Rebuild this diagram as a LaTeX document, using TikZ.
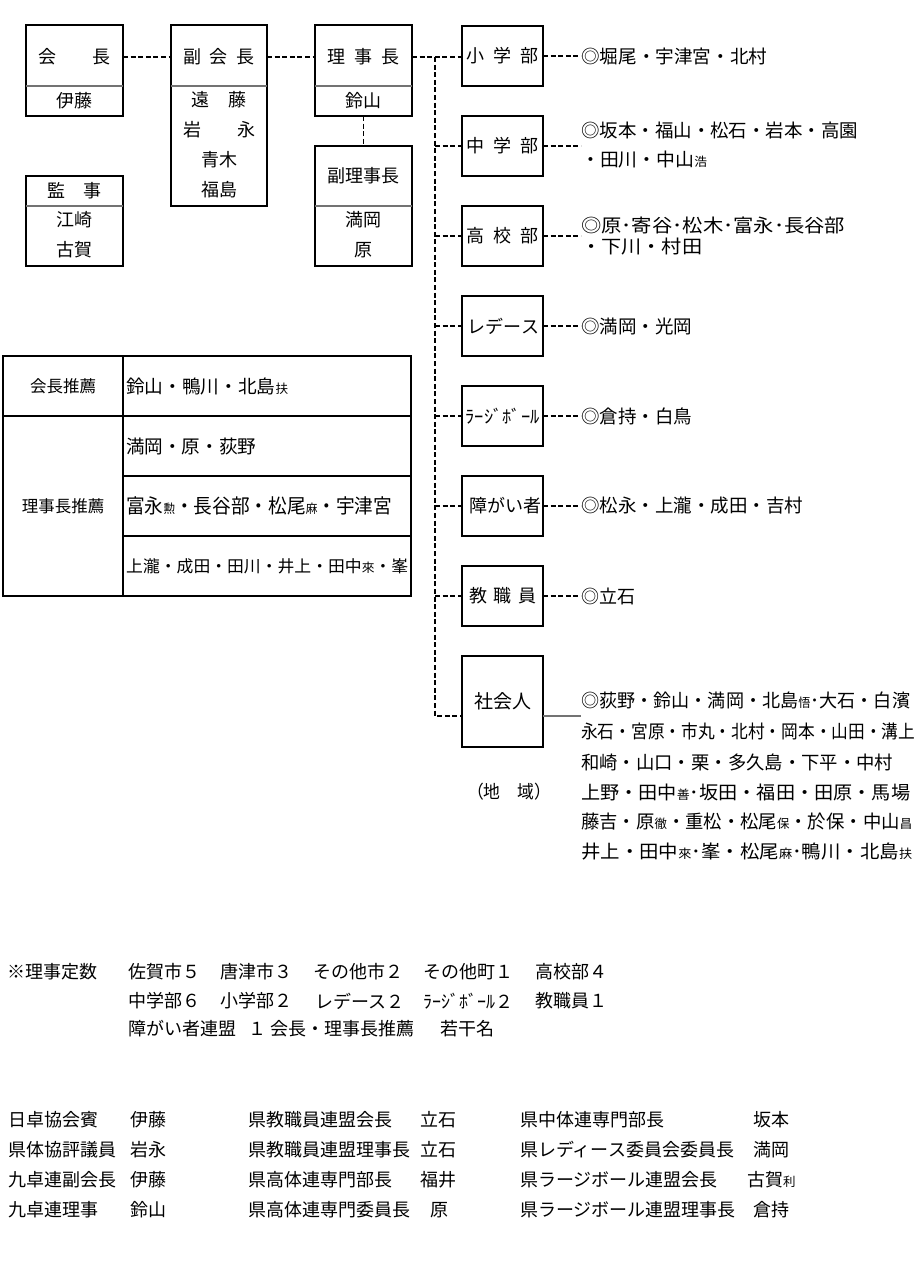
\documentclass[tikz,border=0pt]{standalone}
\usepackage{fontspec}
\usepackage{graphicx}
\setmainfont{Noto Sans CJK JP}
\newcommand\spr[2]{\makebox[#1][s]{#2}}
\newcommand\fitw[2]{\resizebox{#1}{\height}{#2}}
\newcommand\sm[1]{{\fontsize{12.5}{12.5}\selectfont #1}}
\tikzset{
 box/.style={draw, line width=1.9pt, rectangle, inner sep=0pt, outer sep=0pt},
 lbl/.style={inner sep=0pt, font=\fontsize{18}{18}\selectfont},
 txt/.style={inner sep=0pt, anchor=west, font=\fontsize{18.5}{18.5}\selectfont},
 note/.style={inner sep=0pt, anchor=west, font=\fontsize{18}{18}\selectfont},
 conn/.style={line width=1.6pt, dash pattern=on 5pt off 2.6pt},
 divider/.style={line width=1.1pt, black!55},
 plain/.style={line width=1.3pt, black!55},
}
\begin{document}
\begin{tikzpicture}[x=1pt,y=-1pt]
\fill[white] (0,0) rectangle (922,1280);
\useasboundingbox (0,0) rectangle (922,1280);

% ---------- left boxes ----------
\node[box, minimum width=97pt, minimum height=91pt] (kaicho) at (74.5,70.5) {};
\draw[divider] (26,86) -- (123,86);
\node[lbl] (kaichoT) at (74.5,57) {\spr{72pt}{会\hfil 長}};
\node[lbl] (kaichoN) at (74.5,101) {伊藤};

\node[box, minimum width=96pt, minimum height=181pt] (fukukaicho) at (219,115.5) {};
\draw[divider] (171,86) -- (267,86);
\node[lbl] (fukukaichoT) at (219,57) {\spr{71pt}{副\hfil 会\hfil 長}};
\node[lbl] (fk1) at (219,100) {\spr{55pt}{遠\hfil 藤}};
\node[lbl] (fk2) at (219,130) {\spr{72pt}{岩\hfil 永}};
\node[lbl] (fk3) at (219,160) {青木};
\node[lbl] (fk4) at (219,190) {福島};

\node[box, minimum width=97pt, minimum height=91pt] (rijicho) at (363.5,70.5) {};
\draw[divider] (315,86) -- (412,86);
\node[lbl] (rijichoT) at (363.5,57) {\spr{72pt}{理\hfil 事\hfil 長}};
\node[lbl] (rijichoN) at (363.5,101) {鈴山};

\node[box, minimum width=97pt, minimum height=120pt] (fukuriji) at (363.5,206) {};
\draw[divider] (315,206) -- (412,206);
\node[lbl] (fukurijiT) at (363.5,176) {\spr{72pt}{副\hfil 理\hfil 事\hfil 長}};
\node[lbl] (fr1) at (363.5,220) {満岡};
\node[lbl] (fr2) at (363.5,250) {原};

\node[box, minimum width=97pt, minimum height=90pt] (kanji) at (74.5,221) {};
\draw[divider] (26,206) -- (123,206);
\node[lbl] (kanjiT) at (74.5,191) {\spr{54pt}{監\hfil 事}};
\node[lbl] (kj1) at (74.5,220) {江崎};
\node[lbl] (kj2) at (74.5,250) {古賀};

% ---------- right boxes ----------
\node[box, minimum width=81pt, minimum height=60pt] (shogaku) at (502.5,56) {};
\node[lbl] at (shogaku) {\spr{72pt}{小\hfil 学\hfil 部}};
\node[box, minimum width=81pt, minimum height=60pt] (chugaku) at (502.5,146) {};
\node[lbl] at (chugaku) {\spr{72pt}{中\hfil 学\hfil 部}};
\node[box, minimum width=81pt, minimum height=60pt] (koko) at (502.5,236) {};
\node[lbl] at (koko) {\spr{72pt}{高\hfil 校\hfil 部}};
\node[box, minimum width=81pt, minimum height=60pt] (ladies) at (502.5,326) {};
\node[lbl] at (ladies) {\spr{70pt}{レ\hfil デ\hfil ー\hfil ス}};
\node[box, minimum width=81pt, minimum height=60pt] (large) at (502.5,416) {};
\node[lbl] at (large) {\fitw{74pt}{ﾗｰｼﾞﾎﾞｰﾙ}};
\node[box, minimum width=81pt, minimum height=60pt] (shogai) at (502.5,506) {};
\node[lbl] at (shogai) {\spr{67pt}{障\hfil が\hfil い\hfil 者}};
\node[box, minimum width=81pt, minimum height=60pt] (kyoshoku) at (502.5,596) {};
\node[lbl] at (kyoshoku) {\spr{67pt}{教\hfil 職\hfil 員}};
\node[box, minimum width=81pt, minimum height=91pt] (shakai) at (502.5,701.5) {};
\node[lbl, font=\fontsize{19}{19}\selectfont] at (shakai) {社会人};
\node[lbl] (chiiki) at (509,792) {\fitw{84pt}{（地　域）}};

% ---------- connectors ----------
\coordinate (tTop) at (435,57);
\coordinate (tBot) at (435,716);
\draw[conn] (kaichoT -| kaicho.east) -- (kaichoT -| fukukaicho.west);
\draw[conn] (fukukaichoT -| fukukaicho.east) -- (fukukaichoT -| rijicho.west);
\draw[conn] (rijichoT -| rijicho.east) -- (rijichoT -| shogaku.west);
\draw[conn] (rijicho.south) -- (fukuriji.north);
\draw[conn] (tTop) -- (tBot) -- (tBot -| shakai.west);
\foreach \n in {chugaku,koko,ladies,large,shogai,kyoshoku}
  \draw[conn] (\n.west -| tTop) -- (\n.west);

% ---------- right texts ----------
\node[txt] (shogakuL) at (581,56) {\fitw{186pt}{◎堀尾・宇津宮・北村}};
\draw[conn] (shogaku.east) -- (shogaku.east -| shogakuL.west);
\node[txt] (chugakuL1) at (581,130) {\fitw{277pt}{◎坂本・福山・松石・岩本・高園}};
\node[txt] (chugakuL2) at (581,160) {\fitw{126pt}{・田川・中山\sm{浩}}};
\draw[conn] (chugaku.east) -- (chugaku.east -| chugakuL1.west);
\node[txt] (kokoL1) at (581,225) {\fitw{264pt}{◎原･寄谷･松木･富永･長谷部}};
\node[txt] (kokoL2) at (581,247) {\fitw{121pt}{・下川・村田}};
\draw[conn] (koko.east) -- (koko.east -| kokoL1.west);
\node[txt] (ladiesL) at (581,326) {\fitw{111pt}{◎満岡・光岡}};
\draw[conn] (ladies.east) -- (ladies.east -| ladiesL.west);
\node[txt] (largeL) at (581,416) {\fitw{111pt}{◎倉持・白鳥}};
\draw[conn] (large.east) -- (large.east -| largeL.west);
\node[txt] (shogaiL) at (581,506) {\fitw{222pt}{◎松永・上瀧・成田・吉村}};
\draw[conn] (shogai.east) -- (shogai.east -| shogaiL.west);
\node[txt] (kyoshokuL) at (581,596) {\fitw{54pt}{◎立石}};
\draw[conn] (kyoshoku.east) -- (kyoshoku.east -| kyoshokuL.west);

\node[txt] (shakaiL1) at (581,700) {\fitw{329pt}{◎荻野・鈴山・満岡・北島\sm{悟}･大石・白濱}};
\node[txt] (shakaiL2) at (581,731) {\fitw{334pt}{永石・宮原・市丸・北村・岡本・山田・溝上}};
\node[txt] (shakaiL3) at (581,762) {\fitw{312pt}{和崎・山口・栗・多久島・下平・中村}};
\node[txt] (shakaiL4) at (581,792) {\fitw{329pt}{上野・田中\sm{善}･坂田・福田・田原・馬場}};
\node[txt] (shakaiL5) at (581,822) {\fitw{331pt}{藤吉・原\sm{徹}・重松・松尾\sm{保}・於保・中山\sm{昌}}};
\node[txt] (shakaiL6) at (581,852) {\fitw{331pt}{井上・田中\sm{來}･峯・松尾\sm{麻}･鴨川・北島\sm{扶}}};
\draw[plain] (tBot -| shakai.east) -- (tBot -| shakaiL1.west);

% ---------- recommendation table ----------
\node[box, minimum width=120pt, minimum height=60pt] (tA) at (63,386) {};
\node[box, minimum width=120pt, minimum height=180pt] (tB) at (63,506) {};
\node[box, minimum width=288pt, minimum height=60pt] (tR1) at (267,386) {};
\node[box, minimum width=288pt, minimum height=60pt] (tR2) at (267,446) {};
\node[box, minimum width=288pt, minimum height=60pt] (tR3) at (267,506) {};
\node[box, minimum width=288pt, minimum height=60pt] (tR4) at (267,566) {};
\node[lbl, font=\fontsize{16.5}{16.5}\selectfont] at (tA) {会長推薦};
\node[lbl, font=\fontsize{16.5}{16.5}\selectfont] at (tB) {理事長推薦};
\node[txt] (r1) at (126,386) {\fitw{162pt}{鈴山・鴨川・北島\sm{扶}}};
\node[txt] (r2) at (126,446) {\fitw{130pt}{満岡・原・荻野}};
\node[txt, font=\fontsize{20}{20}\selectfont] (r3) at (126,506) {\fitw{266pt}{富永\sm{勲}・長谷部・松尾\sm{麻}・宇津宮}};
\node[txt, font=\fontsize{16.5}{16.5}\selectfont] (r4) at (126,566) {\fitw{282pt}{上瀧・成田・田川・井上・田中\sm{來}・峯}};

% ---------- notes ----------
\node[note] (n0) at (7,972) {※理事定数};
\node[note] (n11) at (128,972) {佐賀市５};
\node[note] (n12) at (220,972) {唐津市３};
\node[note] (n13) at (313,972) {その他市２};
\node[note] (n14) at (423,972) {その他町１};
\node[note] (n15) at (535,972) {高校部４};
\node[note] (n21) at (128,1001) {中学部６};
\node[note] (n22) at (220,1001) {小学部２};
\node[note] (n23) at (315,1001) {レデース２};
\node[note] (n24) at (423,1001) {ﾗｰｼﾞﾎﾞｰﾙ２};
\node[note] (n25) at (535,1001) {教職員１};
\node[note] (n31) at (128,1029) {障がい者連盟};
\node[note] (n32) at (248,1029) {１};
\node[note] (n33) at (270,1029) {会長・理事長推薦};
\node[note] (n34) at (440,1029) {若干名};

% ---------- bottom table ----------
\node[note] (a1) at (8,1120) {日卓協会賓};
\node[note] (a2) at (8,1150) {県体協評議員};
\node[note] (a3) at (8,1180) {九卓連副会長};
\node[note] (a4) at (8,1210) {九卓連理事};
\node[note] (an1) at (130,1120) {伊藤};
\node[note] (an2) at (130,1150) {岩永};
\node[note] (an3) at (130,1180) {伊藤};
\node[note] (an4) at (130,1210) {鈴山};
\node[note] (b1) at (248,1120) {県教職員連盟会長};
\node[note] (b2) at (248,1150) {県教職員連盟理事長};
\node[note] (b3) at (248,1180) {県高体連専門部長};
\node[note] (b4) at (248,1210) {県高体連専門委員長};
\node[note] (bn1) at (420,1120) {立石};
\node[note] (bn2) at (420,1150) {立石};
\node[note] (bn3) at (420,1180) {福井};
\node[note] (bn4) at (430,1210) {原};
\node[note] (c1) at (520,1120) {県中体連専門部長};
\node[note] (c2) at (520,1150) {県レディース委員会委員長};
\node[note] (c3) at (520,1180) {県ラージボール連盟会長};
\node[note] (c4) at (520,1210) {県ラージボール連盟理事長};
\node[note] (cn1) at (753,1120) {坂本};
\node[note] (cn2) at (753,1150) {満岡};
\node[note] (cn3) at (747,1180) {古賀\sm{利}};
\node[note] (cn4) at (753,1210) {倉持};
\end{tikzpicture}
\end{document}
